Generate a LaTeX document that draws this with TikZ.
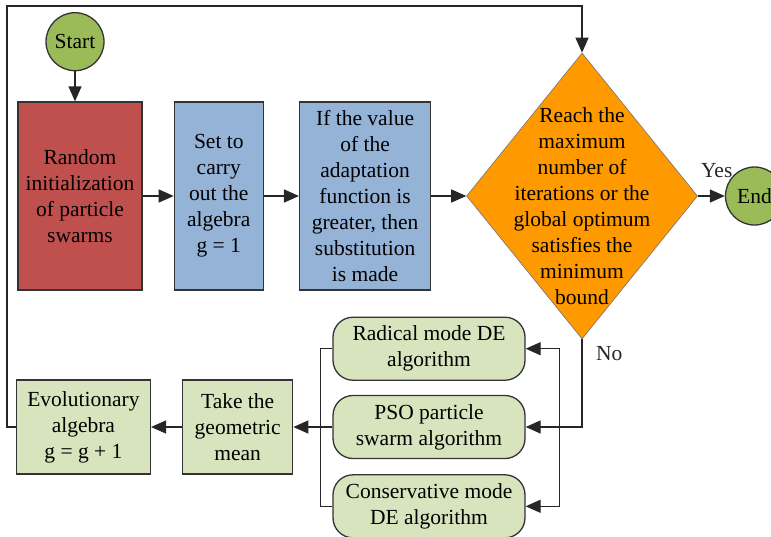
\documentclass[tikz,border=0pt]{standalone}
\usepackage{fontspec}
\setmainfont{Liberation Serif}
\usepackage{tikz}
\usetikzlibrary{shapes, arrows.meta, positioning}
\definecolor{startgreen}{HTML}{9BBB59}
\definecolor{initred}{HTML}{C0504D}
\definecolor{stepblue}{HTML}{95B3D7}
\definecolor{decorange}{HTML}{FF9900}
\definecolor{algogreen}{HTML}{D7E4BD}

\begin{document}
\begin{tikzpicture}[
        x=1pt, y=-1pt,
        every node/.style={font=\fontsize{21.5pt}{26pt}\selectfont, align=center},
        terminal/.style={circle, draw=black!80, fill=startgreen, line width=1.3pt, minimum size=58pt, inner sep=0pt},
        initbox/.style={rectangle, draw=black!80, fill=initred, line width=1.3pt, minimum width=124pt, minimum height=188pt},
        stepbox/.style={rectangle, draw=black!80, fill=stepblue, line width=1.3pt, minimum height=188pt},
        decision/.style={diamond, draw=black!55, fill=decorange, line width=0.6pt, minimum width=231pt, minimum height=286pt, inner sep=0pt},
        algo/.style={rectangle, rounded corners=20pt, draw=black!80, fill=algogreen, line width=1.3pt, minimum width=192pt, minimum height=63pt, inner sep=1pt},
        evolbox/.style={rectangle, draw=black!80, fill=algogreen, line width=1.3pt, minimum height=94pt},
        arrow/.style={-{Triangle[length=15pt, width=13pt]}, line width=1.3pt, black!85},
        line/.style={line width=1.3pt, black!85}
    ]
        \useasboundingbox (0,0) rectangle (771,536);

        % Top row
        \node[initbox] (init) at (80,196) {Random\\initialization\\of particle\\swarms};
        \node[terminal, above=30pt of init, xshift=-5pt] (start) {Start};
        \node[stepbox, minimum width=89pt, right=31pt of init] (set1) {Set to\\carry\\out the\\algebra\\g = 1};
        \node[stepbox, minimum width=131pt, right=35pt of set1] (subst) {If the value\\of the\\adaptation\\function is\\greater, then\\substitution\\is made};
        \node[decision, right=35pt of subst] (check) {};
        \node at ([yshift=-10pt]check.center) (checktext) {Reach the\\maximum\\number of\\iterations or the\\global optimum\\satisfies the\\minimum\\bound};
        \node[terminal, right=27pt of check] (end) {End};

        \draw[arrow] (start) -- (start |- init.north);
        \draw[arrow] (init) -- (set1);
        \draw[arrow] (set1) -- (subst);
        \draw[arrow] (subst) -- (check);
        \draw[arrow] (check) -- node[pos=0.7, above=14pt] {Yes} (end);

        % Bottom row
        \node[algo] (pso) at (429,427) {PSO particle\\swarm algorithm};
        \node[algo, above=14pt of pso] (radical) {Radical mode DE\\algorithm};
        \node[algo, below=15pt of pso] (conserv) {Conservative mode\\DE algorithm};
        \node[evolbox, minimum width=110pt, left=39pt of pso] (mean) {Take the\\geometric\\mean};
        \node[evolbox, minimum width=134pt, left=31pt of mean] (evol) {Evolutionary\\algebra\\g = g + 1};

        \coordinate[right=34pt of pso.east] (busR);
        \coordinate[left=12pt of pso.west] (busL);
        \coordinate (loopL) at (7,6);
        \coordinate (loopR) at (check.north |- loopL);

        \draw[arrow] (check.south) |- node[pos=0.08, right=10pt] {No} (pso.east);
        \draw[arrow] (busR) |- (radical.east);
        \draw[arrow] (busR) |- (conserv.east);
        \draw[line] (radical.west) -| (busL);
        \draw[line] (conserv.west) -| (busL);
        \draw[arrow] (pso.west) -- (mean.east);
        \draw[arrow] (mean) -- (evol);

        % Loop back
        \draw[arrow] (evol.west) -| (loopL) -- (loopR) -- (check.north);
    \end{tikzpicture}
\end{document}
